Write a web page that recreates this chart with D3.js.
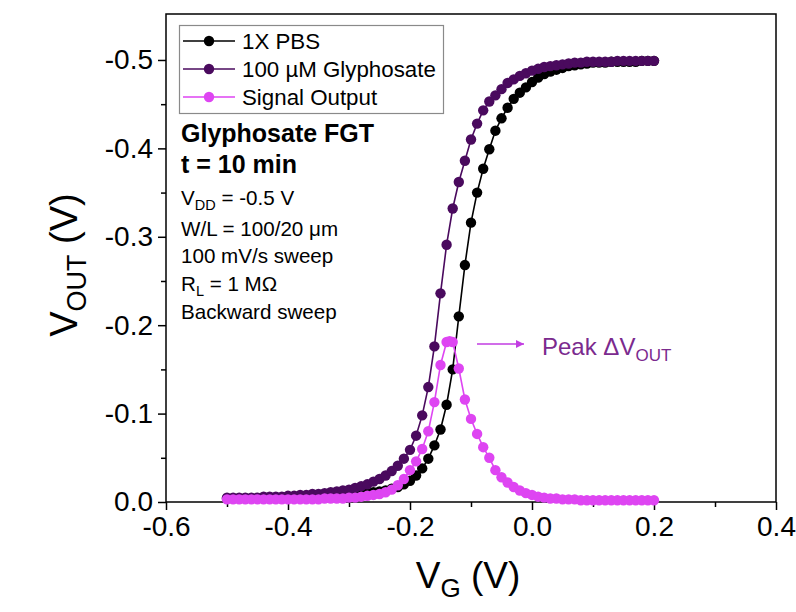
<!DOCTYPE html>
<html><head><meta charset="utf-8">
<script src="https://cdn.jsdelivr.net/npm/d3@7"></script>
<style>
html,body{margin:0;padding:0;background:#fff;}
svg{display:block;font-family:"Liberation Sans",Arial,Helvetica,sans-serif;}
</style></head>
<body>
<svg id="chart" width="796" height="612"></svg>
<script>
// ---- data ----
const vgSweep = [-0.50,-0.49,-0.48,-0.47,-0.46,-0.45,-0.44,-0.43,-0.42,-0.41,
  -0.40,-0.39,-0.38,-0.37,-0.36,-0.35,-0.34,-0.33,-0.32,-0.31,
  -0.30,-0.29,-0.28,-0.27,-0.26,-0.25,-0.24,-0.23,-0.22,-0.21,
  -0.20,-0.19,-0.18,-0.17,-0.16,-0.15,-0.14,-0.13,-0.12,-0.11,
  -0.10,-0.09,-0.08,-0.07,-0.06,-0.05,-0.04,-0.03,-0.02,-0.01,
  0.00,0.01,0.02,0.03,0.04,0.05,0.06,0.07,0.08,0.09,
  0.10,0.11,0.12,0.13,0.14,0.15,0.16,0.17,0.18,0.19,0.20];
const voutPBS = [-0.004,-0.004,-0.004,-0.004,-0.004,-0.004,-0.004,-0.004,-0.004,-0.004,
  -0.005,-0.005,-0.005,-0.005,-0.006,-0.006,-0.006,-0.007,-0.007,-0.007,
  -0.008,-0.008,-0.009,-0.010,-0.011,-0.012,-0.013,-0.015,-0.017,-0.020,
  -0.024,-0.030,-0.038,-0.049,-0.064,-0.082,-0.110,-0.150,-0.210,-0.268,
  -0.316,-0.350,-0.377,-0.399,-0.420,-0.434,-0.446,-0.456,-0.463,-0.469,
  -0.475,-0.480,-0.484,-0.487,-0.489,-0.491,-0.493,-0.494,-0.495,-0.496,
  -0.497,-0.497,-0.497,-0.498,-0.498,-0.498,-0.498,-0.498,-0.499,-0.499,-0.499];
const voutGly = [-0.005,-0.005,-0.005,-0.005,-0.005,-0.005,-0.006,-0.006,-0.006,-0.006,
  -0.007,-0.007,-0.008,-0.008,-0.009,-0.009,-0.010,-0.011,-0.012,-0.013,
  -0.014,-0.016,-0.018,-0.020,-0.023,-0.026,-0.030,-0.035,-0.041,-0.049,
  -0.059,-0.075,-0.098,-0.130,-0.176,-0.236,-0.291,-0.332,-0.362,-0.386,
  -0.410,-0.428,-0.443,-0.453,-0.460,-0.467,-0.474,-0.478,-0.482,-0.485,
  -0.488,-0.490,-0.492,-0.493,-0.494,-0.495,-0.496,-0.497,-0.497,-0.498,
  -0.498,-0.498,-0.498,-0.498,-0.499,-0.499,-0.499,-0.499,-0.499,-0.499,-0.499];
const vgSignal = [-0.50,-0.49,-0.48,-0.47,-0.46,-0.45,-0.44,-0.43,-0.42,-0.41,
  -0.40,-0.39,-0.38,-0.37,-0.36,-0.35,-0.34,-0.33,-0.32,-0.31,
  -0.30,-0.29,-0.28,-0.27,-0.26,-0.25,-0.24,-0.23,-0.22,-0.21,
  -0.20,-0.19,-0.18,-0.17,-0.16,-0.15,-0.14,-0.135,-0.13,-0.12,-0.11,
  -0.10,-0.09,-0.08,-0.07,-0.06,-0.05,-0.04,-0.03,-0.02,-0.01,
  0.00,0.01,0.02,0.03,0.04,0.05,0.06,0.07,0.08,0.09,
  0.10,0.11,0.12,0.13,0.14,0.15,0.16,0.17,0.18,0.19,0.20];
const voutSignal = [-0.003,-0.003,-0.003,-0.003,-0.003,-0.003,-0.003,-0.003,-0.003,-0.003,
  -0.003,-0.003,-0.003,-0.003,-0.003,-0.003,-0.004,-0.004,-0.004,-0.004,
  -0.005,-0.005,-0.006,-0.007,-0.008,-0.009,-0.011,-0.014,-0.019,-0.026,
  -0.036,-0.046,-0.060,-0.080,-0.113,-0.155,-0.181,-0.182,-0.181,-0.151,-0.116,
  -0.094,-0.077,-0.062,-0.050,-0.036,-0.028,-0.022,-0.017,-0.013,-0.010,
  -0.008,-0.006,-0.005,-0.004,-0.004,-0.003,-0.003,-0.003,-0.002,-0.002,
  -0.002,-0.002,-0.002,-0.002,-0.002,-0.002,-0.002,-0.002,-0.002,-0.002,-0.002];
const seriesNames = ["1X PBS", "100 \u00B5M Glyphosate", "Signal Output"];
const seriesColors = ["#000000", "#4A0A5E", "#DE45F2"];
const xTicks = [-0.6, -0.4, -0.2, 0.0, 0.2, 0.4];
const xMinorTicks = [-0.5, -0.3, -0.1, 0.1, 0.3];
const yTicks = [0.0, -0.1, -0.2, -0.3, -0.4, -0.5];
const yMinorTicks = [-0.05, -0.15, -0.25, -0.35, -0.45];
const infoBold = ["Glyphosate FGT", "t = 10 min"];

// ---- layout ----
const svg = d3.select("#chart");
const L = 166, R = 776, T = 14, B = 502;
const FONT = '"Liberation Sans",Arial,Helvetica,sans-serif';
const x = d3.scaleLinear().domain([-0.6, 0.4]).range([L, R]);
const y = d3.scaleLinear().domain([0, -0.552]).range([B, T]);

// frame
svg.append("rect").attr("x", L).attr("y", T).attr("width", R - L).attr("height", B - T)
  .attr("fill", "none").attr("stroke", "#000").attr("stroke-width", 1.5);

// axes
const fmt = d => d3.format(".1f")(d).replace("\u2212", "-");
const xAxis = svg.append("g").attr("transform", `translate(0,${B})`)
  .call(d3.axisBottom(x).tickValues(xTicks).tickSize(8).tickPadding(5).tickFormat(fmt));
const xMinor = svg.append("g").attr("transform", `translate(0,${B})`)
  .call(d3.axisBottom(x).tickValues(xMinorTicks).tickSize(5).tickFormat(""));
const yAxis = svg.append("g").attr("transform", `translate(${L},0)`)
  .call(d3.axisLeft(y).tickValues(yTicks).tickSize(8).tickPadding(5).tickFormat(fmt));
const yMinor = svg.append("g").attr("transform", `translate(${L},0)`)
  .call(d3.axisLeft(y).tickValues(yMinorTicks).tickSize(5).tickFormat(""));
[xAxis, xMinor, yAxis, yMinor].forEach(g => {
  g.select(".domain").remove();
  g.selectAll(".tick line").attr("stroke", "#000").attr("stroke-width", 1.5);
  g.selectAll(".tick text").attr("font-size", 28).attr("font-family", FONT).attr("fill", "#000");
});
xAxis.selectAll(".tick text").attr("dy", "0.74em");

// axis titles
const xt = svg.append("text").attr("x", 468).attr("y", 588).attr("text-anchor", "middle")
  .attr("font-size", 37).attr("font-family", FONT);
xt.append("tspan").text("V");
xt.append("tspan").attr("font-size", 26).attr("dy", 9).text("G");
xt.append("tspan").attr("dy", -9).text(" (V)");

const yt = svg.append("text").attr("transform", "translate(77,265) rotate(-90)")
  .attr("text-anchor", "middle").attr("font-size", 38).attr("font-family", FONT);
yt.append("tspan").text("V");
yt.append("tspan").attr("font-size", 27).attr("dy", 9).text("OUT");
yt.append("tspan").attr("dy", -9).text(" (V)");

// series
const series = [
  {name: seriesNames[0], color: seriesColors[0], xs: vgSweep, ys: voutPBS},
  {name: seriesNames[1], color: seriesColors[1], xs: vgSweep, ys: voutGly},
  {name: seriesNames[2], color: seriesColors[2], xs: vgSignal, ys: voutSignal}
];
const line = d3.line().x(d => x(d[0])).y(d => y(d[1]));
series.forEach(s => {
  const pts = s.xs.map((v, i) => [v, s.ys[i]]);
  const g = svg.append("g");
  g.append("path").datum(pts).attr("d", line).attr("fill", "none")
    .attr("stroke", s.color).attr("stroke-width", 1.6);
  g.selectAll("circle").data(pts).join("circle")
    .attr("cx", d => x(d[0])).attr("cy", d => y(d[1])).attr("r", 5.2)
    .attr("fill", s.color);
});

// legend
const lg = svg.append("g");
lg.append("rect").attr("x", 179.5).attr("y", 25.5).attr("width", 264).attr("height", 88)
  .attr("fill", "#fff").attr("stroke", "#8a8a8a").attr("stroke-width", 1.2);
series.forEach((s, i) => {
  const cy = 41 + i * 28;
  lg.append("line").attr("x1", 183).attr("x2", 235).attr("y1", cy).attr("y2", cy)
    .attr("stroke", s.color).attr("stroke-width", 1.6);
  lg.append("circle").attr("cx", 209).attr("cy", cy).attr("r", 5.2).attr("fill", s.color);
  lg.append("text").attr("x", 242).attr("y", cy + 8).attr("font-size", 22.3)
    .attr("font-family", FONT).text(s.name);
});

// info text
const info = svg.append("g").attr("font-family", FONT);
infoBold.forEach((t, i) => {
  info.append("text").attr("x", 181).attr("y", 142 + i * 31).attr("font-size", 25)
    .attr("font-weight", "bold").text(t);
});
function sub(base, subT, rest, yy) {
  const t = info.append("text").attr("x", 181).attr("y", yy).attr("font-size", 20.6);
  t.append("tspan").text(base);
  t.append("tspan").attr("font-size", 14.5).attr("dy", 5).text(subT);
  t.append("tspan").attr("dy", -5).text(rest);
}
sub("V", "DD", " = -0.5 V", 205);
info.append("text").attr("x", 181).attr("y", 236).attr("font-size", 20.6).text("W/L = 100/20 \u03BCm");
info.append("text").attr("x", 181).attr("y", 263).attr("font-size", 20.6).text("100 mV/s sweep");
sub("R", "L", " = 1 M\u03A9", 291);
info.append("text").attr("x", 181).attr("y", 319).attr("font-size", 20.6).text("Backward sweep");

// peak annotation
const arrowColor = "#C23DE2";
svg.append("defs").append("marker").attr("id", "ah").attr("viewBox", "0 0 10 10")
  .attr("refX", 10).attr("refY", 5).attr("markerWidth", 12).attr("markerHeight", 8)
  .attr("markerUnits", "userSpaceOnUse").attr("orient", "auto")
  .append("path").attr("d", "M0,0 L10,5 L0,10 Z").attr("fill", arrowColor);
svg.append("line").attr("x1", 477).attr("x2", 524).attr("y1", 344).attr("y2", 344)
  .attr("stroke", arrowColor).attr("stroke-width", 1.5).attr("marker-end", "url(#ah)");
const pk = svg.append("text").attr("x", 542).attr("y", 355).attr("font-size", 24)
  .attr("font-family", FONT).attr("fill", "#7B2A8E");
pk.append("tspan").text("Peak \u0394V");
pk.append("tspan").attr("font-size", 17).attr("dy", 6).text("OUT");
</script>
</body></html>
